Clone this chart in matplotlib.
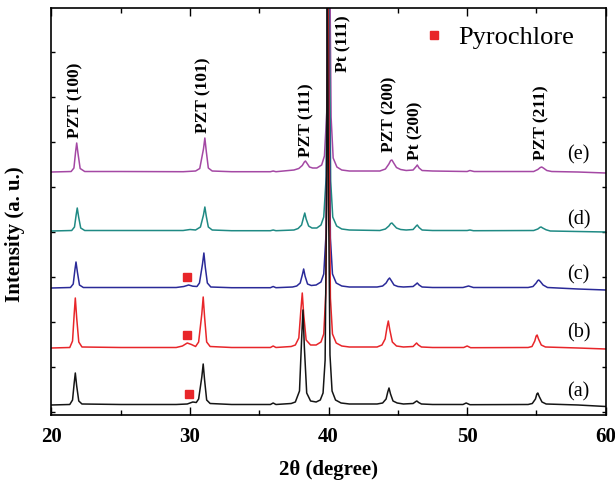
import matplotlib
matplotlib.use('Agg')
import matplotlib.pyplot as plt
from matplotlib.lines import Line2D
from matplotlib.ticker import MultipleLocator

plt.rcParams['font.family'] = ['Liberation Serif', 'DejaVu Serif']

# XRD patterns, intensity above each pattern's own baseline (a. u.)
x_a = [20.0, 21.32, 21.52, 21.64, 21.72, 21.82, 21.97, 22.2, 25.0, 29.0, 29.8, 30.2, 30.45, 30.62, 30.85,
       30.95, 31.05, 31.2, 31.45, 33.0, 35.8, 36.0, 36.2, 37.3, 37.6, 37.9, 38.05, 38.15, 38.25, 38.42,
       38.7, 39.1, 39.4, 39.6, 39.75, 39.85, 39.91, 40.0, 40.1, 40.25, 40.5, 40.9, 41.5, 43.5, 43.9, 44.15,
       44.27, 44.36, 44.47, 44.65, 44.95, 45.4, 46.1, 46.3, 46.37, 46.5, 46.7, 47.5, 49.7, 49.93, 50.2,
       54.4, 54.7, 54.93, 55.03, 55.1, 55.2, 55.4, 55.7, 58.0, 60.0]
i_a = [0, 0.5, 5, 22, 32, 19, 4, 1, 0.5, 0.5, 1, 3, 2.5, 6, 28,
       41, 25, 5, 1.5, 0.5, 0.5, 2, 0.5, 1.5, 3, 14, 65, 95, 58, 12,
       4, 3, 5, 12, 45, 200, 420, 200, 50, 14, 5, 2, 1, 1, 2, 6,
       13, 17, 11, 4, 2, 1, 1.5, 3.5, 4, 2.5, 1, 0.5, 0.5, 2, 0.3,
       0.5, 1.5, 6, 11, 12, 8.5, 3, 1, 0, -1.5]

x_b = [20.0, 21.32, 21.52, 21.64, 21.72, 21.82, 21.97, 22.2, 25.0, 29.0, 29.45, 29.8, 30.1, 30.4, 30.62,
       30.85, 30.95, 31.05, 31.2, 31.45, 33.0, 35.8, 36.0, 36.2, 37.3, 37.6, 37.85, 38.0, 38.1, 38.2,
       38.38, 38.7, 39.1, 39.45, 39.65, 39.8, 39.9, 39.95, 40.03, 40.13, 40.28, 40.55, 40.95, 41.5, 43.5,
       43.85, 44.08, 44.22, 44.31, 44.42, 44.6, 44.9, 45.4, 46.1, 46.28, 46.35, 46.48, 46.7, 47.5, 49.75,
       50.0, 50.25, 54.4, 54.68, 54.88, 54.98, 55.05, 55.15, 55.35, 55.65, 58.0, 60.0]
i_b = [0, 0.5, 7, 34, 50, 30, 6, 1, 0.5, 0.5, 2, 5, 3.5, 1.5, 6,
       34, 51, 31, 6, 1.5, 0.5, 0.5, 2, 0.5, 1.5, 3, 10, 38, 55, 34,
       8, 3, 3, 6, 14, 55, 220, 420, 220, 50, 14, 5, 2, 1, 1,
       3, 9, 21, 27, 18, 6, 2, 1, 1.5, 4, 5, 3, 1, 0.5, 0.5,
       2, 0.3, 0.5, 1.5, 7, 12, 13, 9, 3, 1, 0, -1]

x_c = [20.0, 21.37, 21.57, 21.69, 21.77, 21.87, 22.02, 22.3, 25.0, 29.0, 29.55, 29.9, 30.2, 30.5, 30.68,
       30.9, 31.0, 31.1, 31.25, 31.5, 33.0, 35.8, 36.0, 36.2, 37.4, 37.7, 37.95, 38.12, 38.2, 38.3,
       38.48, 38.75, 39.1, 39.45, 39.65, 39.82, 39.9, 39.95, 40.03, 40.13, 40.28, 40.55, 40.95, 41.5, 43.5,
       43.9, 44.15, 44.3, 44.4, 44.52, 44.72, 45.0, 45.4, 46.1, 46.32, 46.4, 46.53, 46.75, 47.5, 49.7,
       50.1, 50.45, 54.4, 54.75, 54.98, 55.1, 55.17, 55.28, 55.48, 55.8, 58.0, 60.0]
i_c = [0, 0.5, 4, 18, 26, 16, 3, 0.5, 0.5, 0.5, 1.5, 3, 1.8, 1.5, 5,
       24, 35, 21, 5, 1, 0.3, 0.3, 1.5, 0.3, 1, 2, 5, 14, 19, 12,
       4, 2.5, 3, 6, 14, 55, 220, 420, 220, 50, 14, 5, 2, 1, 1,
       2, 5, 8.5, 10, 7.5, 3, 1.5, 1, 1.5, 4, 5, 3, 1, 0.5, 0.5,
       2, 0.5, 0.5, 1.5, 5, 7.5, 8, 6.5, 3, 0.5, -1, -2]

x_d = [20.0, 21.46, 21.66, 21.78, 21.86, 21.96, 22.11, 22.4, 25.0, 29.5, 30.0, 30.4, 30.75, 30.97, 31.07,
       31.17, 31.32, 31.6, 33.0, 35.8, 36.0, 36.2, 37.5, 37.8, 38.05, 38.2, 38.28, 38.38, 38.56, 38.8,
       39.15, 39.45, 39.65, 39.83, 39.92, 39.97, 40.05, 40.15, 40.3, 40.58, 40.95, 41.5, 43.7, 44.1, 44.35,
       44.48, 44.57, 44.7, 44.9, 45.2, 45.6, 46.1, 46.32, 46.4, 46.53, 46.75, 47.5, 50.0, 50.2, 50.45,
       54.8, 55.1, 55.26, 55.34, 55.45, 55.7, 56.0, 58.0, 60.0]
i_d = [0, 0.5, 4, 16, 23, 14, 3, 0.5, 0.5, 0.5, 1.5, 1, 4, 16, 24,
       15, 4, 1, 0.3, 0.3, 1, 0.3, 1, 2.5, 6, 14, 18, 12, 5, 3,
       3, 6, 14, 55, 220, 420, 220, 50, 14, 5, 2, 1, 0.5, 2, 5,
       7.5, 8, 6, 3, 1.5, 1, 1.5, 5, 6, 3.5, 1, 0.5, 0.5, 1, 0.3,
       0.5, 2, 3.7, 4, 3, 1.2, 0, -0.5, -1]

x_e = [20.0, 21.42, 21.62, 21.74, 21.82, 21.92, 22.07, 22.4, 25.0, 29.5, 30.4, 30.7, 30.97, 31.07, 31.17,
       31.32, 31.6, 33.0, 35.8, 36.0, 36.2, 37.5, 37.85, 38.1, 38.25, 38.33, 38.43, 38.62, 38.85, 39.15,
       39.5, 39.7, 39.87, 39.95, 40.0, 40.08, 40.18, 40.33, 40.6, 40.95, 41.5, 43.7, 44.1, 44.35, 44.48,
       44.57, 44.7, 44.9, 45.2, 45.6, 46.1, 46.32, 46.4, 46.53, 46.75, 47.5, 50.0, 50.2, 50.5, 54.8,
       55.1, 55.28, 55.38, 55.5, 55.75, 56.1, 58.0, 60.0]
i_e = [0, 0.5, 4, 20, 29, 18, 3.5, 0.5, 0.5, 0.3, 1, 3.5, 23, 34, 21,
       4, 1, 0.3, 0.3, 1, 0.3, 2, 3.5, 6.5, 10, 11, 9, 5, 4, 4,
       7, 16, 60, 220, 420, 220, 55, 14, 5, 2, 1, 1, 3, 8,
       11.5, 12, 9, 4.5, 2.5, 1.5, 2, 5.5, 7, 4, 1.5, 1, 0.5, 1.5, 0.5, 0.5,
       2.5, 4.5, 5, 4, 1.5, 0.5, 0, -1]

curves_x = [x_a, x_b, x_c, x_d, x_e]
curves_i = [i_a, i_b, i_c, i_d, i_e]
offsets = [7, 64, 124, 181, 240]
curve_names = ['(a)', '(b)', '(c)', '(d)', '(e)']
colors = ['#151515', '#e8262a', '#2a2a98', '#1f8a84', '#a448a4']

# reflection labels
peak_names = ['PZT (100)', 'PZT (101)', 'PZT (111)', 'Pt (111)', 'PZT (200)', 'Pt (200)', 'PZT (211)']
peak_label_x = [21.70, 30.96, 38.37, 41.06, 44.38, 46.24, 55.38]
peak_label_y = [274, 279, 255, 340, 260, 252, 252]

# pyrochlore markers
pyro_x = [29.92, 29.78, 29.78]
pyro_y = [18, 77, 135]

name_x = 58.05
name_y = [20, 79, 137, 192, 257]

red = '#e8262a'

fig = plt.figure(figsize=(6.15, 4.83), dpi=100)
ax = fig.add_axes([0.0837, 0.1408, 0.9012, 0.8426])

for k in [4, 3, 2, 1, 0]:
    y = [v + offsets[k] for v in curves_i[k]]
    ax.plot(curves_x[k], y, color=colors[k], lw=1.1)
    ax.text(name_x, name_y[k], curve_names[k], fontsize=14.5, ha='center', va='center')

for name, px, py in zip(peak_names, peak_label_x, peak_label_y):
    ax.text(px, py, name, rotation=90, ha='center', va='bottom', fontsize=12.5, fontweight='bold')

ax.plot(pyro_x, pyro_y, ls='', marker='s', ms=6, color=red)

handle = Line2D([], [], ls='', marker='s', ms=6, color=red, label='Pyrochlore')
ax.legend(handles=[handle], loc='upper right', bbox_to_anchor=(0.985, 1.015), frameon=False,
          fontsize=19, handlelength=0.8, handletextpad=0.5)

ax.set_xlim(20, 60)
ax.set_ylim(-3, 404)
ax.xaxis.set_major_locator(MultipleLocator(10))
ax.xaxis.set_minor_locator(MultipleLocator(5))
ax.yaxis.set_major_locator(MultipleLocator(45))
ax.tick_params(axis='x', which='both', direction='in', top=True, labelsize=15, pad=9)
ax.tick_params(axis='x', which='major', length=6, width=1.0)
ax.tick_params(axis='x', which='minor', length=3.5, width=1.0)
ax.tick_params(axis='y', which='both', direction='in', right=True, length=3, width=1.0, labelleft=False)
for lab in ax.get_xticklabels():
    lab.set_fontweight('bold')
for s in ax.spines.values():
    s.set_linewidth(1.2)

ax.set_xlabel('2θ (degree)', fontsize=15, fontweight='bold', labelpad=9)
ax.set_ylabel('Intensity (a. u.)', fontsize=15, fontweight='bold')
ax.yaxis.set_label_coords(-0.047, 0.445)

fig.savefig('out.png', dpi=100)
